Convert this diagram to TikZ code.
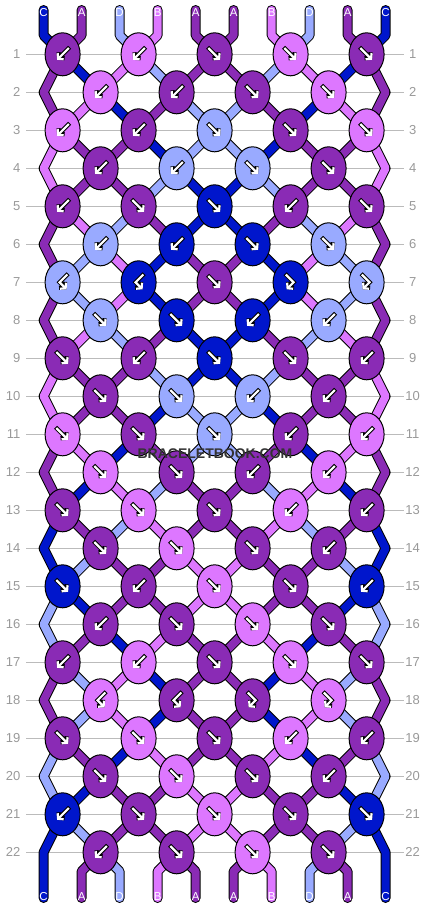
\documentclass[tikz,border=0pt]{standalone}
\usepackage{fontspec}
\setmainfont{Liberation Sans}
\usetikzlibrary{shapes.geometric,arrows.meta}

\definecolor{strA}{HTML}{8A2BB5}
\definecolor{strB}{HTML}{DD77FF}
\definecolor{strC}{HTML}{0016CC}
\definecolor{strD}{HTML}{99AAFF}
\definecolor{rulegray}{HTML}{BBBBBB}
\definecolor{numgray}{HTML}{999999}

\pgfdeclarelayer{rules}
\pgfdeclarelayer{strands}
\pgfsetlayers{rules,strands,main}

\tikzset{
  knot/.style={ellipse, draw=black, line width=1pt, fill=#1,
    minimum width=35pt, minimum height=43pt, inner sep=0pt},
  strand/.style={draw=black, line width=1pt, double=#1,
    double distance=8pt, line join=round},
  tag/.style={text=white, inner sep=0pt, font=\fontsize{11.5}{11.5}\selectfont},
  rowno/.style={text=numgray, inner sep=0pt, font=\fontsize{13}{13}\selectfont},
  glyph out/.style={draw=black, line width=4.2pt, line cap=rect,
    -{Straight Barb[length=3.6pt,width=8.5pt]}},
  glyph in/.style={draw=white, line width=2.2pt, line cap=rect,
    -{Straight Barb[length=3.6pt,width=8.5pt]}},
  pics/arrf/.style={code={
    \draw[glyph out] (-5.5,-5.5) -- (5.5,5.5);
    \draw[glyph in] (-5.5,-5.5) -- (5.5,5.5);}},
  pics/arrb/.style={code={
    \draw[glyph out] (5.5,-5.5) -- (-5.5,5.5);
    \draw[glyph in] (5.5,-5.5) -- (-5.5,5.5);}},
  pics/arrfb/.style={code={
    \draw[glyph out] (-4,-7) -- (3,0) -- (-4,7);
    \draw[glyph in] (-4,-7) -- (3,0) -- (-4,7);}},
  pics/arrbf/.style={code={
    \draw[glyph out] (4,-7) -- (-3,0) -- (4,7);
    \draw[glyph in] (4,-7) -- (-3,0) -- (4,7);}},
}

\begin{document}
\begin{tikzpicture}[x=1pt, y=-1pt]
  \useasboundingbox (0,0) rectangle (430,908);

  % knots: colour / knot type
  \foreach \row/\ks in {
      1/{A/b,B/b,A/f,B/f,A/f},   2/{B/b,A/b,A/f,B/f},
      3/{B/b,A/b,D/f,A/f,B/f},   4/{A/b,D/b,D/f,A/f},
      5/{A/b,A/f,C/f,A/b,A/f},   6/{D/b,C/b,C/f,D/f},
      7/{D/bf,C/bf,A/f,C/fb,D/fb}, 8/{D/f,C/f,C/b,D/b},
      9/{A/f,A/b,C/f,A/f,A/b},   10/{A/f,D/f,D/b,A/b},
      11/{B/f,A/f,D/f,A/b,B/b},  12/{B/f,A/f,A/b,B/b},
      13/{A/f,B/f,A/f,B/b,A/b},  14/{A/f,B/f,A/f,A/b},
      15/{C/f,A/b,B/f,A/f,C/b},  16/{A/b,A/f,B/f,A/f},
      17/{A/b,B/b,A/f,B/f,A/f},  18/{B/bf,A/bf,A/fb,B/fb},
      19/{A/f,B/f,A/f,B/b,A/b},  20/{A/f,B/f,A/f,A/b},
      21/{C/b,A/f,B/f,A/f,C/f},  22/{A/b,A/f,B/f,A/f}}{
    \pgfmathsetmacro\ky{16.3+38*\row}
    \foreach \col/\kt [count=\kj from 0] in \ks {
      \pgfmathsetmacro\kx{62.6+38*(1-mod(\row,2))+76*\kj}
      \node[knot=str\col] (k-\row-\kj) at (\kx,\ky) {};
      \pic at (k-\row-\kj) {arr\kt};
    }
  }

  % row numbers and rules
  \foreach \row in {1,...,22}{
    \pgfmathsetmacro\ky{16.3+38*\row}
    \node[rowno, anchor=east] (nl-\row) at (20.5,\ky) {\row};
    \node[rowno] (nr-\row) at (412.7,\ky) {\row};
    \coordinate (rl-\row) at (26,\ky);
    \coordinate (rr-\row) at (403.5,\ky);
    \coordinate (eL-\row) at (43.6,\ky);
    \coordinate (eR-\row) at (385.6,\ky);
    \begin{pgfonlayer}{rules}
      \draw[rulegray, line width=1pt] (rl-\row) -- (rr-\row);
    \end{pgfonlayer}
  }

  % string ends
  \foreach \sp in {0,...,9}{
    \coordinate (t-\sp) at (43.6+38*\sp,10);
    \coordinate (tb-\sp) at (43.6+38*\sp,35.3);
    \coordinate (bb-\sp) at (43.6+38*\sp,871.3);
    \coordinate (b-\sp) at (43.6+38*\sp,898);
  }

  \begin{pgfonlayer}{strands}
    % top
    \foreach \col [count=\sp from 0] in {C,A,D,B,A,A,B,D,A,C}{
      \pgfmathtruncatemacro\ja{\sp/2}
      \draw[strand=str\col, line cap=round] (t-\sp) -- (tb-\sp) -- (k-1-\ja.center);
      \node[tag] (tt-\sp) at (43.6+38*\sp,12.5) {\col};
    }
    % strings leaving each row
    \foreach \row/\sc in {
        1/{A,C,B,D,A,A,D,B,C,A},  2/{A,B,C,A,D,D,A,C,B,A},
        3/{B,A,A,C,D,D,C,A,A,B},  4/{B,A,A,D,C,C,D,A,A,B},
        5/{A,B,D,A,C,C,A,D,B,A},  6/{A,D,B,C,A,A,C,B,D,A},
        7/{A,D,B,C,A,A,C,B,D,A},  8/{A,B,D,A,C,C,A,D,B,A},
        9/{B,A,A,D,C,C,D,A,A,B},  10/{B,A,A,C,D,D,C,A,A,B},
        11/{A,B,C,A,D,D,A,C,B,A}, 12/{A,C,B,D,A,A,D,B,C,A},
        13/{C,A,D,B,A,A,B,D,A,C}, 14/{C,D,A,A,B,B,A,A,D,C},
        15/{D,C,A,A,B,B,A,A,C,D}, 16/{D,A,C,B,A,A,B,C,A,D},
        17/{A,D,B,C,A,A,C,B,D,A}, 18/{A,D,B,C,A,A,C,B,D,A},
        19/{D,A,C,B,A,A,B,C,A,D}, 20/{D,C,A,A,B,B,A,A,C,D},
        21/{C,D,A,A,B,B,A,A,D,C}}{
      \pgfmathtruncatemacro\nxt{\row+1}
      \pgfmathtruncatemacro\nnx{\row+2}
      \foreach \col [count=\sp from 0] in \sc {
        \ifodd\row\relax
          \ifnum\sp=0
            \ifnum\row<21
              \draw[strand=str\col] (k-\row-0.center) -- (eL-\nxt) -- (k-\nnx-0.center);
            \else
              \draw[strand=str\col, line cap=round] (k-\row-0.center) -- (eL-\nxt) -- (b-0);
            \fi
          \else\ifnum\sp=9
            \ifnum\row<21
              \draw[strand=str\col] (k-\row-4.center) -- (eR-\nxt) -- (k-\nnx-4.center);
            \else
              \draw[strand=str\col, line cap=round] (k-\row-4.center) -- (eR-\nxt) -- (b-9);
            \fi
          \else
            \pgfmathtruncatemacro\ja{\sp/2}
            \pgfmathtruncatemacro\jb{(\sp-1)/2}
            \draw[strand=str\col] (k-\row-\ja.center) -- (k-\nxt-\jb.center);
          \fi\fi
        \else
          \ifnum\sp>0 \ifnum\sp<9
            \pgfmathtruncatemacro\ja{(\sp-1)/2}
            \pgfmathtruncatemacro\jb{\sp/2}
            \draw[strand=str\col] (k-\row-\ja.center) -- (k-\nxt-\jb.center);
          \fi\fi
        \fi
      }
    }
    % bottom
    \foreach \col [count=\sp from 0] in {C,A,D,B,A,A,B,D,A,C}{
      \ifnum\sp>0 \ifnum\sp<9
        \pgfmathtruncatemacro\ja{(\sp-1)/2}
        \draw[strand=str\col, line cap=round] (k-22-\ja.center) -- (bb-\sp) -- (b-\sp);
      \fi\fi
      \node[tag] (bt-\sp) at (43.6+38*\sp,896.3) {\col};
    }
  \end{pgfonlayer}

  \node[font=\fontsize{14}{14}\selectfont\bfseries, text=black!80] (mark) at (215,453.3) {BRACELETBOOK.COM};
\end{tikzpicture}
\end{document}
